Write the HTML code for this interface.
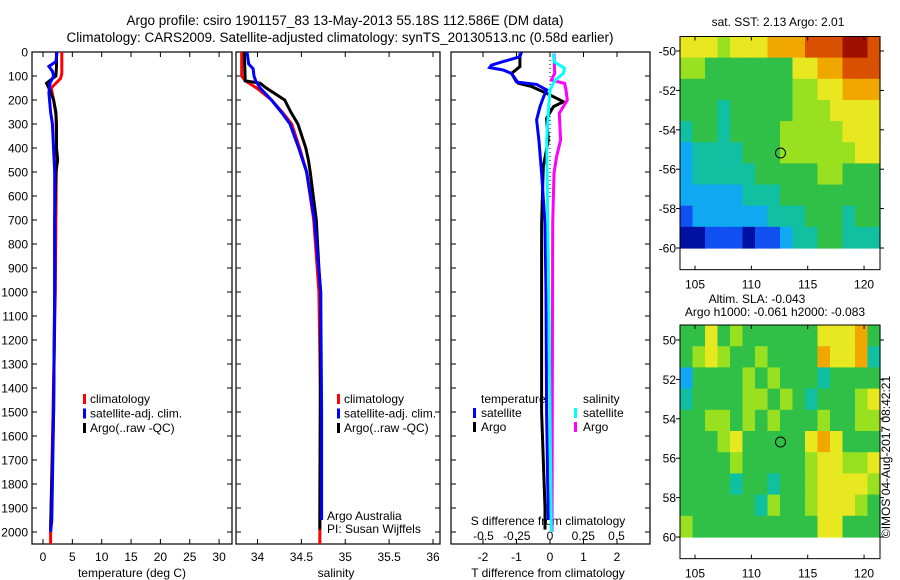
<!DOCTYPE html>
<html><head><meta charset="utf-8"><style>
html,body{margin:0;padding:0;background:#fff}
svg{display:block;font-family:"Liberation Sans",sans-serif}
</style></head><body>
<svg id="c" width="900" height="580" viewBox="0 0 900 580"></svg>
<script>
// ---------- data ----------
const depthTicks=[0,100,200,300,400,500,600,700,800,900,1000,1100,1200,1300,1400,1500,1600,1700,1800,1900,2000];
const tempTicks=[0,5,10,15,20,25,30];
const salTicks=[34,34.5,35,35.5,36];
const salTickLabels=["34","34.5","35","35.5","36"];
const tdiffTicks=[-2,-1,0,1,2];
const sdiffTicks=[-0.5,-0.25,0,0.25,0.5];
const sdiffLabels=["-0.5","-0.25","0","0.25","0.5"];
const tempClimDepth=[0,90,110,125,150,200,260,400,1000,1500,2000,2050];
const tempClim=[3.2,3.2,3.0,2.4,1.4,1.8,2.2,2.3,2.1,1.7,1.3,1.3];
const tempSatDepth=[0,40,60,80,100,130,170,250,300,500,1000,1500,1950,2000];
const tempSat=[2.4,2.2,1.0,1.6,1.8,1.2,1.0,1.3,1.6,2.0,2.0,1.8,1.5,1.3];
const tempArgoDepth=[0,60,100,130,160,200,250,300,400,450,500,700,1000,1500,1990];
const tempArgo=[2.3,2.3,2.2,0.6,1.2,1.8,2.2,2.3,2.3,2.5,2.2,2.0,2.0,1.8,1.3];
const salClimDepth=[0,100,120,150,200,250,300,400,500,700,900,1000,1500,2050];
const salClim=[33.82,33.82,33.86,33.99,34.16,34.28,34.39,34.48,34.56,34.64,34.68,34.70,34.72,34.71];
const salSatDepth=[0,50,70,100,120,150,200,250,300,400,500,700,1000,1500,1950];
const salSat=[33.88,33.9,33.95,33.96,33.98,34.03,34.16,34.27,34.37,34.47,34.56,34.65,34.72,34.73,34.73];
const salArgoDepth=[0,120,130,150,200,250,300,400,450,500,700,900,1000,1900,1990];
const salArgo=[33.85,33.86,34.03,34.1,34.31,34.38,34.46,34.55,34.58,34.6,34.67,34.7,34.72,34.71,34.71];
const tdSatDepth=[0,20,40,55,65,75,89,125,135,158,190,228,283,367,505,714,1000,1500,1950];
const tdSat=[-0.85,-0.9,-1.4,-1.75,-1.8,-1.4,-1.15,-1.0,-0.4,-0.1,-0.2,-0.3,-0.4,-0.33,-0.25,-0.15,-0.12,-0.1,-0.05];
const tdArgoDepth=[6,61,89,130,144,172,207,228,276,367,478,714,1500,1900,1990];
const tdArgo=[-0.9,-0.9,-1.15,-0.95,-0.55,-0.1,0.4,0.1,-0.1,-0.05,-0.2,-0.25,-0.25,-0.15,-0.15];
const sdSatDepth=[6,40,68,89,117,158,228,367,1000,2000];
const sdSat=[0.025,0.03,0.11,0.1,0.04,0,-0.01,-0.025,-0.01,0.01];
const sdArgoDepth=[6,89,117,131,158,200,256,367,436,505,714,2000];
const sdArgo=[0.03,0.035,0.01,0.11,0.12,0.13,0.07,0.08,0.05,0.03,0.02,0.015];
const latTicks=[-50,-52,-54,-56,-58,-60];
const lonTicks=[105,110,115,120];
const sstRows=["6665666777888998","5544444446677888","4444444445566777","4443444445556666","3443444455555666","2333344455555566","2333334444455444","2222233344444444","1222222333444344","0011101123344333"];
const slaRows=["4464544444466674","4565445444476673","2444454544434444","3444455454344456","4455454544454455","4445644444676444","4444544444566556","4444344344566665","4444443544566654","5444444444466444"];
const cmap=["#0010a0","#1050f0","#10a8f0","#10c0a0","#30c048","#98e020","#e8e820","#f0a800","#d85000","#a01000"];
// ---------- helpers ----------
const NS="http://www.w3.org/2000/svg";
const svg=document.getElementById('c');
function el(tag,attrs,parent){const e=document.createElementNS(NS,tag);for(const k in attrs)e.setAttribute(k,attrs[k]);(parent||svg).appendChild(e);return e;}
function txt(x,y,s,anchor,size,parent){const t=el('text',{x:x,y:y,'font-size':size||12,'text-anchor':anchor||'start',fill:'#000'},parent);t.textContent=s;return t;}
const Y0=52,Y1=544;
const yD=d=>Y0+d*0.24;
const P1={x0:32,x1:232,sx:v=>43+v*5.87};
const P2={x0:236,x1:440,sx:v=>257.5+(v-34)*87.75};
const P3={x0:451,x1:650,sx:v=>550+v*33.5,ss:v=>550+v*133};
function box(p,name){const r=el('rect',{x:p.x0,y:Y0,width:p.x1-p.x0,height:Y1-Y0,fill:'none',stroke:'#000','stroke-width':1.2});


for(const d of depthTicks){const y=yD(d);el('line',{x1:p.x0,y1:y,x2:p.x0+5,y2:y,stroke:'#000'});el('line',{x1:p.x1,y1:y,x2:p.x1-5,y2:y,stroke:'#000'});}}
function xticks(p,vals,f,labels,ly){vals.forEach((v,i)=>{const x=f(v);el('line',{x1:x,y1:Y1,x2:x,y2:Y1-5,stroke:'#000'});el('line',{x1:x,y1:Y0,x2:x,y2:Y0+5,stroke:'#000'});
const t=txt(x,ly,labels[i],'middle');

});}
function line(ds,vs,f,color,name,w){const pts=ds.map((d,i)=>f(vs[i]).toFixed(1)+','+yD(d).toFixed(1)).join(' ');
const l=el('polyline',{points:pts,fill:'none',stroke:color,'stroke-width':w||3,'stroke-linejoin':'miter'});

}
function legbar(x,y,color){el('rect',{x:x,y:y-9,width:3,height:10,fill:color});}
// titles
let t=txt(345,25,"Argo profile: csiro 1901157_83 13-May-2013 55.18S 112.586E (DM data)",'middle',13.5);


t=txt(340,42,"Climatology: CARS2009. Satellite-adjusted climatology: synTS_20130513.nc (0.58d earlier)",'middle',13.5);


// depth labels
for(const d of depthTicks){const l=txt(28,yD(d)+4.5,String(d),'end');

}
// panel 1
box(P1,'temperature-panel');
xticks(P1,tempTicks,P1.sx,tempTicks.map(String),561);
t=txt(132,577,"temperature (deg C)",'middle');


line(tempClimDepth,tempClim,P1.sx,'#ff0000','temp-climatology-line');
line(tempArgoDepth,tempArgo,P1.sx,'#000000','temp-argo-line');
line(tempSatDepth,tempSat,P1.sx,'#0000ff','temp-satellite-line');
[["climatology","#f00"],["satellite-adj. clim.","#00f"],["Argo(..raw -QC)","#000"]].forEach((e,i)=>{legbar(83,403+i*14.5,e[1]);const l=txt(90,403+i*14.5,e[0]);

});
// panel 2
box(P2,'salinity-panel');
xticks(P2,salTicks,P2.sx,salTickLabels,561);
t=txt(336,577,"salinity",'middle');


line(salClimDepth,salClim,P2.sx,'#ff0000','sal-climatology-line');
line(salArgoDepth,salArgo,P2.sx,'#000000','sal-argo-line');
line(salSatDepth,salSat,P2.sx,'#0000ff','sal-satellite-line');
[["climatology","#f00"],["satellite-adj. clim.","#00f"],["Argo(..raw -QC)","#000"]].forEach((e,i)=>{legbar(337,403+i*14.5,e[1]);const l=txt(344,403+i*14.5,e[0]);

});
t=txt(327,520,"Argo Australia");


t=txt(327,533,"PI: Susan Wijffels");


// panel 3
box(P3,'difference-panel');
xticks(P3,tdiffTicks,P3.sx,tdiffTicks.map(String),561);
sdiffTicks.forEach((v,i)=>{const l=txt(P3.ss(v),540,sdiffLabels[i],'middle');

});
t=txt(548,525,"S difference from climatology",'middle');


t=txt(548,577,"T difference from climatology",'middle');


el('line',{x1:550,y1:Y0,x2:550,y2:200,stroke:'#000','stroke-dasharray':'1,3'});
line(tdArgoDepth,tdArgo,P3.sx,'#000000','tdiff-argo-line');
line(tdSatDepth,tdSat,P3.sx,'#0000ff','tdiff-satellite-line');
line(sdArgoDepth,sdArgo,P3.ss,'#ff00ff','sdiff-argo-line');
line(sdSatDepth,sdSat,P3.ss,'#00ffff','sdiff-satellite-line');
t=txt(481,403,"temperature");
t=txt(583,403,"salinity");
[["satellite","#00f",473,481],["Argo","#000",473,481],["satellite","#0ff",574,583],["Argo","#f0f",574,583]].forEach((e,i)=>{const yy=417+(i%2)*14;legbar(e[2],yy,e[1]);const l=txt(e[3],yy,e[0]);

});
// maps
function map(top,lat50,rows,name,neg,title1,title2){
 const mx0=680,mx1=880,lonX=v=>695+(v-105)*11.27,latY=v=>lat50+(-50-v)*19.7;
 const bottom=latY(-61.1);
 const g=el('g',{});
 
 
 const yTop=top,yBot=latY(-60),nr=rows.length,nc=rows[0].length;
 const cw=(mx1-mx0)/nc,ch=(yBot-yTop)/nr;
 rows.forEach((r,i)=>{for(let j=0;j<nc;j++){el('rect',{x:(mx0+j*cw).toFixed(2),y:(yTop+i*ch).toFixed(2),width:(cw+0.6).toFixed(2),height:(ch+0.6).toFixed(2),fill:cmap[+r[j]]},g);}});
 el('rect',{x:mx0,y:top,width:mx1-mx0,height:bottom-top,fill:'none',stroke:'#000'},g);
 latTicks.forEach(v=>{const y=latY(v);el('line',{x1:mx0-4,y1:y,x2:mx0,y2:y,stroke:'#000'},g);el('line',{x1:mx1,y1:y,x2:mx1+4,y2:y,stroke:'#000'},g);
  const l=txt(676,y+4.5,neg?String(v):String(-v),'end',12,g);
  
  });
 lonTicks.forEach(v=>{const x=lonX(v);el('line',{x1:x,y1:top,x2:x,y2:top+4,stroke:'#000'},g);el('line',{x1:x,y1:bottom,x2:x,y2:bottom-4,stroke:'#000'},g);
  const l=txt(x,bottom+19,String(v),'middle',12,g);
  
  });
 const c=el('circle',{cx:lonX(112.586),cy:latY(-55.18),r:5,fill:'none',stroke:'#000','stroke-width':1},g);
 
 
 return {top,bottom};
}
map(36.5,51,sstRows,'sst-map',true);
t=txt(778,26,"sat. SST: 2.13 Argo: 2.01",'middle');


map(325,340,slaRows,'sla-map',false);
t=txt(757,303,"Altim. SLA: -0.043",'middle');


t=txt(775,316,"Argo h1000: -0.061 h2000: -0.083",'middle');


t=txt(0,0,"©IMOS 04-Aug-2017 08:42:21",'middle');
t.setAttribute('transform','translate(890,457) rotate(-90)');


</script>
</body></html>
